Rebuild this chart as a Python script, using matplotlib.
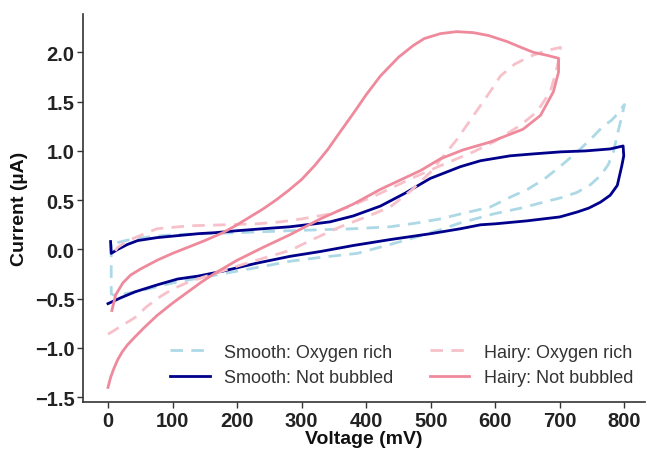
import matplotlib.pyplot as plt
import numpy as np

plt.rcParams['font.family'] = ['Liberation Sans', 'DejaVu Sans']

# Smooth: Oxygen rich
v_so = [5, 5, 11, 50, 100, 150, 200, 250, 282, 330, 386, 437, 480, 515, 546, 597, 640, 675, 705, 727,
        748, 763, 775, 783, 790, 796, 800, 790, 780, 767, 748, 727, 700, 675, 650, 623, 592, 546, 515,
        480, 437, 380, 330, 282, 200, 100, 40, 15, 5]
i_so = [0.05, -0.45, -0.47, -0.42, -0.34, -0.28, -0.22, -0.16, -0.12, -0.08, -0.04, 0.05, 0.13, 0.20,
        0.27, 0.36, 0.42, 0.48, 0.53, 0.58, 0.66, 0.75, 0.86, 0.99, 1.19, 1.35, 1.47, 1.38, 1.31, 1.25,
        1.12, 0.99, 0.84, 0.71, 0.61, 0.53, 0.43, 0.36, 0.31, 0.27, 0.23, 0.21, 0.20, 0.19, 0.17, 0.15,
        0.11, 0.07, 0.05]

# Smooth: Not bubbled
v_sn = [4, 5, 10, 15, 30, 46, 76, 108, 140, 166, 200, 240, 282, 320, 344, 380, 422, 460, 499, 546, 577,
        623, 660, 701, 740, 778, 798, 799, 796, 789, 778, 763, 745, 727, 700, 649, 600, 577, 546, 500,
        437, 380, 330, 282, 230, 178, 140, 108, 76, 42, 20, 0]
i_sn = [0.08, -0.04, -0.02, 0.0, 0.05, 0.09, 0.12, 0.14, 0.16, 0.17, 0.19, 0.21, 0.23, 0.26, 0.28, 0.34,
        0.44, 0.57, 0.72, 0.84, 0.90, 0.95, 0.97, 0.99, 1.00, 1.02, 1.05, 0.95, 0.85, 0.65, 0.55, 0.48,
        0.42, 0.38, 0.33, 0.29, 0.26, 0.25, 0.21, 0.16, 0.10, 0.04, -0.02, -0.07, -0.14, -0.22, -0.27,
        -0.30, -0.36, -0.43, -0.49, -0.55]

# Hairy: Oxygen rich
v_ho = [0, 20, 42, 60, 83, 101, 125, 153, 200, 240, 282, 320, 360, 400, 437, 470, 499, 520, 541, 560,
        577, 595, 608, 630, 654, 680, 701, 699, 694, 685, 665, 639, 600, 566, 515, 470, 422, 380, 344,
        300, 267, 231, 180, 127, 76, 57, 31, 15, 6]
i_ho = [-0.86, -0.78, -0.69, -0.58, -0.47, -0.40, -0.33, -0.27, -0.17, -0.09, -0.01, 0.11, 0.23, 0.33,
        0.43, 0.60, 0.78, 0.95, 1.12, 1.30, 1.46, 1.63, 1.76, 1.88, 1.96, 2.02, 2.05, 1.95, 1.80, 1.60,
        1.40, 1.26, 1.10, 0.99, 0.85, 0.72, 0.57, 0.45, 0.36, 0.31, 0.28, 0.26, 0.25, 0.24, 0.21, 0.16,
        0.09, 0.02, -0.06]

# Hairy: Not bubbled
v_hn = [0, 4, 9, 15, 22, 30, 40, 55, 76, 101, 124, 145, 166, 200, 240, 282, 329, 380, 422, 484, 515,
        550, 592, 643, 670, 690, 698, 698, 680, 659, 640, 618, 590, 566, 540, 515, 490, 473, 450, 422,
        400, 380, 355, 340, 320, 300, 280, 260, 240, 220, 200, 178, 150, 127, 100, 76, 50, 35, 23, 12, 6]
i_hn = [-1.40, -1.30, -1.21, -1.12, -1.04, -0.97, -0.90, -0.80, -0.67, -0.54, -0.43, -0.33, -0.24, -0.11,
        0.02, 0.15, 0.31, 0.46, 0.61, 0.80, 0.92, 1.01, 1.09, 1.22, 1.36, 1.60, 1.80, 1.94, 1.97, 2.00,
        2.05, 2.11, 2.17, 2.20, 2.21, 2.19, 2.14, 2.07, 1.95, 1.76, 1.57, 1.38, 1.15, 1.01, 0.85, 0.71,
        0.60, 0.50, 0.41, 0.33, 0.25, 0.17, 0.09, 0.03, -0.04, -0.11, -0.20, -0.26, -0.34, -0.46, -0.62]

x_ticks = [0, 100, 200, 300, 400, 500, 600, 700, 800]
y_ticks = [-1.5, -1.0, -0.5, 0.0, 0.5, 1.0, 1.5, 2.0]

fig = plt.figure(figsize=(6.47, 4.52), dpi=100)
ax = fig.add_axes([0.128, 0.108, 0.869, 0.859])

lw = 2.0
ax.plot(v_so, i_so, color='#ADD8E6', lw=lw, dashes=(4.5, 3), label='Smooth: Oxygen rich', zorder=2)
ax.plot(v_sn, i_sn, color='#00008B', lw=lw, label='Smooth: Not bubbled', zorder=3)
ax.plot(v_ho, i_ho, color='#F7C1CA', lw=lw, dashes=(4.5, 3), label='Hairy: Oxygen rich', zorder=4)
ax.plot(v_hn, i_hn, color='#EF8A9C', lw=lw, label='Hairy: Not bubbled', zorder=5)

ax.set_xlim(-39, 832)
ax.set_ylim(-1.55, 2.39)
ax.set_xticks(x_ticks)
ax.set_yticks(y_ticks)
ax.set_yticklabels([('%.1f' % t).replace('-', '\u2212') for t in y_ticks])
for s in ['top', 'right']:
    ax.spines[s].set_visible(False)
for s in ['left', 'bottom']:
    ax.spines[s].set_linewidth(1.2)
    ax.spines[s].set_color('#333333')
ax.tick_params(length=4, width=1.0, color='#333333', labelsize=14.5, labelcolor='#222222', pad=2)
for lab in ax.get_xticklabels() + ax.get_yticklabels():
    lab.set_fontweight('bold')

ax.set_xlabel('Voltage (mV)', fontsize=14, fontweight='bold', color='#111111', labelpad=0)
ax.set_ylabel('Current (\u00b5A)', fontsize=14, fontweight='bold', color='#111111', labelpad=5)

ax.legend(ncol=2, loc='lower right', bbox_to_anchor=(1.008, 0.0), frameon=False, fontsize=13,
          handlelength=2.2, handletextpad=0.8, columnspacing=2.0, labelspacing=0.45,
          labelcolor='#333333')

fig.savefig('out.png', dpi=100, facecolor='white')
